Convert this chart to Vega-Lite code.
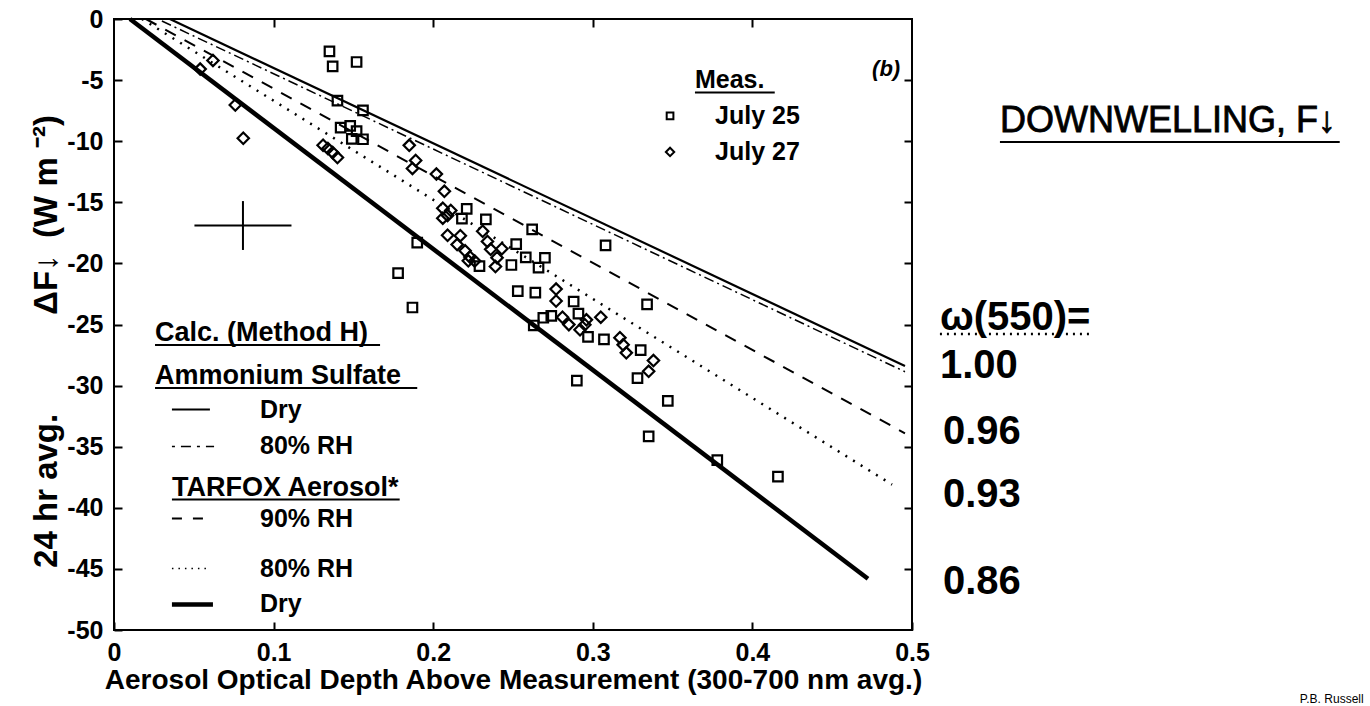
{
  "$schema": "https://vega.github.io/schema/vega-lite/v6.json",
  "width": 798,
  "height": 611,
  "autosize": {"type": "none"},
  "padding": {"left": 114, "top": 19, "right": 458, "bottom": 76},
  "background": "white",
  "datasets": {
    "pts": [
      {"date": "July 25", "x": 0.135, "y": -2.65},
      {"date": "July 25", "x": 0.137, "y": -3.88},
      {"date": "July 25", "x": 0.152, "y": -3.52},
      {"date": "July 25", "x": 0.140, "y": -6.68},
      {"date": "July 25", "x": 0.156, "y": -7.47},
      {"date": "July 25", "x": 0.142, "y": -8.89},
      {"date": "July 25", "x": 0.148, "y": -8.75},
      {"date": "July 25", "x": 0.152, "y": -9.17},
      {"date": "July 25", "x": 0.156, "y": -9.84},
      {"date": "July 25", "x": 0.149, "y": -9.81},
      {"date": "July 25", "x": 0.221, "y": -15.54},
      {"date": "July 25", "x": 0.218, "y": -16.34},
      {"date": "July 25", "x": 0.233, "y": -16.39},
      {"date": "July 25", "x": 0.252, "y": -18.42},
      {"date": "July 25", "x": 0.190, "y": -18.30},
      {"date": "July 25", "x": 0.178, "y": -20.80},
      {"date": "July 25", "x": 0.187, "y": -23.61},
      {"date": "July 25", "x": 0.262, "y": -17.22},
      {"date": "July 25", "x": 0.308, "y": -18.52},
      {"date": "July 25", "x": 0.258, "y": -19.50},
      {"date": "July 25", "x": 0.270, "y": -19.54},
      {"date": "July 25", "x": 0.266, "y": -20.35},
      {"date": "July 25", "x": 0.229, "y": -20.23},
      {"date": "July 25", "x": 0.249, "y": -20.13},
      {"date": "July 25", "x": 0.253, "y": -22.27},
      {"date": "July 25", "x": 0.264, "y": -22.39},
      {"date": "July 25", "x": 0.288, "y": -23.12},
      {"date": "July 25", "x": 0.291, "y": -24.11},
      {"date": "July 25", "x": 0.263, "y": -25.08},
      {"date": "July 25", "x": 0.269, "y": -24.45},
      {"date": "July 25", "x": 0.274, "y": -24.30},
      {"date": "July 25", "x": 0.297, "y": -26.01},
      {"date": "July 25", "x": 0.307, "y": -26.21},
      {"date": "July 25", "x": 0.330, "y": -27.10},
      {"date": "July 25", "x": 0.328, "y": -29.39},
      {"date": "July 25", "x": 0.290, "y": -29.59},
      {"date": "July 25", "x": 0.334, "y": -23.35},
      {"date": "July 25", "x": 0.347, "y": -31.25},
      {"date": "July 25", "x": 0.335, "y": -34.16},
      {"date": "July 25", "x": 0.378, "y": -36.10},
      {"date": "July 25", "x": 0.416, "y": -37.45},
      {"date": "July 27", "x": 0.054, "y": -4.10},
      {"date": "July 27", "x": 0.062, "y": -3.39},
      {"date": "July 27", "x": 0.076, "y": -7.04},
      {"date": "July 27", "x": 0.081, "y": -9.76},
      {"date": "July 27", "x": 0.131, "y": -10.33},
      {"date": "July 27", "x": 0.134, "y": -10.59},
      {"date": "July 27", "x": 0.137, "y": -10.92},
      {"date": "July 27", "x": 0.140, "y": -11.34},
      {"date": "July 27", "x": 0.185, "y": -10.34},
      {"date": "July 27", "x": 0.189, "y": -11.58},
      {"date": "July 27", "x": 0.187, "y": -12.23},
      {"date": "July 27", "x": 0.202, "y": -12.69},
      {"date": "July 27", "x": 0.207, "y": -14.10},
      {"date": "July 27", "x": 0.206, "y": -15.49},
      {"date": "July 27", "x": 0.211, "y": -15.67},
      {"date": "July 27", "x": 0.206, "y": -16.30},
      {"date": "July 27", "x": 0.209, "y": -16.07},
      {"date": "July 27", "x": 0.209, "y": -17.70},
      {"date": "July 27", "x": 0.217, "y": -17.73},
      {"date": "July 27", "x": 0.231, "y": -17.37},
      {"date": "July 27", "x": 0.234, "y": -18.20},
      {"date": "July 27", "x": 0.215, "y": -18.46},
      {"date": "July 27", "x": 0.220, "y": -18.97},
      {"date": "July 27", "x": 0.223, "y": -19.47},
      {"date": "July 27", "x": 0.226, "y": -19.81},
      {"date": "July 27", "x": 0.222, "y": -19.79},
      {"date": "July 27", "x": 0.236, "y": -18.85},
      {"date": "July 27", "x": 0.243, "y": -18.80},
      {"date": "July 27", "x": 0.240, "y": -19.53},
      {"date": "July 27", "x": 0.239, "y": -20.26},
      {"date": "July 27", "x": 0.277, "y": -22.10},
      {"date": "July 27", "x": 0.277, "y": -23.08},
      {"date": "July 27", "x": 0.305, "y": -24.40},
      {"date": "July 27", "x": 0.295, "y": -25.02},
      {"date": "July 27", "x": 0.296, "y": -24.62},
      {"date": "July 27", "x": 0.281, "y": -24.41},
      {"date": "July 27", "x": 0.285, "y": -25.01},
      {"date": "July 27", "x": 0.292, "y": -25.43},
      {"date": "July 27", "x": 0.319, "y": -26.66},
      {"date": "July 27", "x": 0.317, "y": -26.08},
      {"date": "July 27", "x": 0.321, "y": -27.32},
      {"date": "July 27", "x": 0.338, "y": -27.95},
      {"date": "July 27", "x": 0.335, "y": -28.83}
    ],
    "lines": [
      {"series": "AS_dry", "x": 0.035, "y": 0},
      {"series": "AS_dry", "x": 0.4956, "y": -28.4},
      {"series": "AS_80", "x": 0.03, "y": 0},
      {"series": "AS_80", "x": 0.4956, "y": -28.7},
      {"series": "T90", "x": 0.02, "y": 0},
      {"series": "T90", "x": 0.4956, "y": -33.9},
      {"series": "T80", "x": 0.0175, "y": 0},
      {"series": "T80", "x": 0.4875, "y": -38.1},
      {"series": "Tdry", "x": 0.01, "y": 0},
      {"series": "Tdry", "x": 0.4724, "y": -45.8}
    ],
    "legendLines": [
      {"series": "AS_dry", "x": 0.0363, "x2": 0.0601, "y": -31.96},
      {"series": "AS_80", "x": 0.0363, "x2": 0.0627, "y": -34.98},
      {"series": "T90", "x": 0.0363, "x2": 0.0558, "y": -40.88},
      {"series": "T80", "x": 0.0363, "x2": 0.0580, "y": -44.97},
      {"series": "Tdry", "x": 0.0363, "x2": 0.0620, "y": -47.91}
    ],
    "cross": [
      {"x": 0.0504, "x2": 0.1112, "y": -16.9, "y2": -16.9},
      {"x": 0.0808, "x2": 0.0808, "y": -14.9, "y2": -18.9}
    ],
    "measLegend": [
      {"date": "July 25", "x": 0.3484, "y": -7.93},
      {"date": "July 27", "x": 0.3484, "y": -10.88}
    ],
    "underlines": [
      {"kind": "solid", "x": 0.0257, "x2": 0.1667, "y": -26.68},
      {"kind": "solid", "x": 0.0257, "x2": 0.190, "y": -30.2},
      {"kind": "solid", "x": 0.0363, "x2": 0.179, "y": -39.32},
      {"kind": "solid", "x": 0.364, "x2": 0.414, "y": -6.02},
      {"kind": "solid", "x": 0.5551, "x2": 0.768, "y": -10.07},
      {"kind": "dotted", "x": 0.5175, "x2": 0.6134, "y": -25.78}
    ],
    "labels": [
      {"kind": "head", "text": "Calc. (Method H)", "x": 0.0257, "y": -25.7},
      {"kind": "head", "text": "Ammonium Sulfate", "x": 0.0257, "y": -29.21},
      {"kind": "head", "text": "TARFOX Aerosol*", "x": 0.0363, "y": -38.42},
      {"kind": "item", "text": "Dry", "x": 0.0915, "y": -31.96},
      {"kind": "item", "text": "80% RH", "x": 0.0915, "y": -34.98},
      {"kind": "item", "text": "90% RH", "x": 0.0915, "y": -40.88},
      {"kind": "item", "text": "80% RH", "x": 0.0915, "y": -44.97},
      {"kind": "item", "text": "Dry", "x": 0.0915, "y": -47.91},
      {"kind": "item", "text": "Meas.", "x": 0.364, "y": -4.96},
      {"kind": "item", "text": "July 25", "x": 0.3766, "y": -7.9},
      {"kind": "item", "text": "July 27", "x": 0.3766, "y": -10.88},
      {"kind": "panel", "text": "(b)", "x": 0.475, "y": -4.09},
      {"kind": "big", "text": "ω(550)=", "x": 0.5175, "y": -24.47},
      {"kind": "big", "text": "1.00", "x": 0.5175, "y": -28.40},
      {"kind": "big", "text": "0.96", "x": 0.5194, "y": -33.80},
      {"kind": "big", "text": "0.93", "x": 0.5194, "y": -38.95},
      {"kind": "big", "text": "0.86", "x": 0.5194, "y": -46.07},
      {"kind": "title", "text": "DOWNWELLING, F↓", "x": 0.5551, "y": -8.35},
      {"kind": "credit", "text": "P.B. Russell", "x": 0.743, "y": -55.65}
    ]
  },
  "encoding": {
    "x": {"field": "x", "type": "quantitative", "scale": {"domain": [0, 0.5], "nice": false, "zero": false}, "axis": null},
    "y": {"field": "y", "type": "quantitative", "scale": {"domain": [-50, 0], "nice": false, "zero": false}, "axis": null}
  },
  "layer": [
    {
      "data": {"name": "cross"},
      "mark": {"type": "rule", "color": "black", "strokeWidth": 2},
      "encoding": {
        "x": {"field": "x", "type": "quantitative", "scale": {"domain": [0, 0.5], "nice": false, "zero": false},
          "axis": {"orient": "bottom", "values": [0, 0.1, 0.2, 0.3, 0.4, 0.5],
            "labelExpr": "datum.value == 0 ? '0' : format(datum.value, '.1f')",
            "labelFont": "Liberation Sans", "labelFontWeight": "bold", "labelFontSize": 25, "labelColor": "black",
            "labelPadding": 18, "labelFlush": false, "labelOverlap": false,
            "tickSize": -8, "tickColor": "black", "tickWidth": 2, "domain": false, "grid": false,
            "title": "Aerosol Optical Depth Above Measurement (300-700 nm avg.)",
            "titleFont": "Liberation Sans", "titleFontWeight": "bold", "titleFontSize": 28, "titleColor": "black", "titlePadding": 1}},
        "y": {"field": "y", "type": "quantitative", "scale": {"domain": [-50, 0], "nice": false, "zero": false},
          "axis": {"orient": "left", "values": [0, -5, -10, -15, -20, -25, -30, -35, -40, -45, -50],
            "labelExpr": "'' + datum.value",
            "labelFont": "Liberation Sans", "labelFontWeight": "bold", "labelFontSize": 25, "labelColor": "black",
            "labelPadding": 19, "labelFlush": false, "labelOverlap": false,
            "tickSize": -8, "tickColor": "black", "tickWidth": 2, "domain": false, "grid": false,
            "title": "24 hr avg.\u2003\u2003\u2003ΔF↓\u2002(W m ⁻²)",
            "titleY": 322,
            "titleFont": "Liberation Sans", "titleFontWeight": "bold", "titleFontSize": 33, "titleColor": "black", "titlePadding": 3}},
        "x2": {"field": "x2"},
        "y2": {"field": "y2"}
      }
    },
    {
      "data": {"name": "cross"},
      "mark": {"type": "rule", "strokeOpacity": 0},
      "encoding": {
        "x": {"field": "x", "type": "quantitative", "scale": {"domain": [0, 0.5], "nice": false, "zero": false},
          "axis": {"orient": "top", "values": [0.1, 0.2, 0.3, 0.4], "labels": false, "title": null,
            "tickSize": -8, "tickColor": "black", "tickWidth": 2, "domain": false, "grid": false}},
        "y": {"field": "y", "type": "quantitative", "scale": {"domain": [-50, 0], "nice": false, "zero": false},
          "axis": {"orient": "right", "values": [-5, -10, -15, -20, -25, -30, -35, -40, -45], "labels": false, "title": null,
            "tickSize": -8, "tickColor": "black", "tickWidth": 2, "domain": false, "grid": false}},
        "x2": {"field": "x2"},
        "y2": {"field": "y2"}
      }
    },
    {
      "data": {"name": "lines"},
      "transform": [{"filter": "datum.series == 'AS_dry'"}],
      "mark": {"type": "line", "color": "black", "strokeWidth": 2.2},
      "encoding": {}
    },
    {
      "data": {"name": "lines"},
      "transform": [{"filter": "datum.series == 'AS_80'"}],
      "mark": {"type": "line", "color": "black", "strokeWidth": 1.5, "strokeDash": [10, 4, 2, 4], "yOffset": 2},
      "encoding": {}
    },
    {
      "data": {"name": "lines"},
      "transform": [{"filter": "datum.series == 'T90'"}],
      "mark": {"type": "line", "color": "black", "strokeWidth": 2, "strokeDash": [12, 10]},
      "encoding": {}
    },
    {
      "data": {"name": "lines"},
      "transform": [{"filter": "datum.series == 'T80'"}],
      "mark": {"type": "line", "color": "black", "strokeWidth": 2.5, "strokeDash": [2, 7]},
      "encoding": {}
    },
    {
      "data": {"name": "lines"},
      "transform": [{"filter": "datum.series == 'Tdry'"}],
      "mark": {"type": "line", "color": "black", "strokeWidth": 4.5},
      "encoding": {}
    },
    {
      "data": {"name": "legendLines"},
      "transform": [{"filter": "datum.series == 'AS_dry'"}],
      "mark": {"type": "rule", "color": "black", "strokeWidth": 2},
      "encoding": {"x2": {"field": "x2"}}
    },
    {
      "data": {"name": "legendLines"},
      "transform": [{"filter": "datum.series == 'AS_80'"}],
      "mark": {"type": "rule", "color": "black", "strokeWidth": 1.5, "strokeDash": [3, 6, 10, 6]},
      "encoding": {"x2": {"field": "x2"}}
    },
    {
      "data": {"name": "legendLines"},
      "transform": [{"filter": "datum.series == 'T90'"}],
      "mark": {"type": "rule", "color": "black", "strokeWidth": 2, "strokeDash": [10, 11]},
      "encoding": {"x2": {"field": "x2"}}
    },
    {
      "data": {"name": "legendLines"},
      "transform": [{"filter": "datum.series == 'T80'"}],
      "mark": {"type": "rule", "color": "black", "strokeWidth": 1.5, "strokeDash": [1.5, 5]},
      "encoding": {"x2": {"field": "x2"}}
    },
    {
      "data": {"name": "legendLines"},
      "transform": [{"filter": "datum.series == 'Tdry'"}],
      "mark": {"type": "rule", "color": "black", "strokeWidth": 4.5},
      "encoding": {"x2": {"field": "x2"}}
    },
    {
      "data": {"name": "pts"},
      "transform": [{"filter": "datum.date == 'July 25'"}],
      "mark": {"type": "point", "shape": "square", "size": 90, "filled": false, "color": "black", "strokeWidth": 2.2, "opacity": 1},
      "encoding": {}
    },
    {
      "data": {"name": "pts"},
      "transform": [{"filter": "datum.date == 'July 27'"}],
      "mark": {"type": "point", "shape": "diamond", "size": 130, "filled": false, "color": "black", "strokeWidth": 2.2, "opacity": 1},
      "encoding": {}
    },
    {
      "data": {"name": "measLegend"},
      "transform": [{"filter": "datum.date == 'July 25'"}],
      "mark": {"type": "point", "shape": "square", "size": 45, "filled": false, "color": "black", "strokeWidth": 2, "opacity": 1},
      "encoding": {}
    },
    {
      "data": {"name": "measLegend"},
      "transform": [{"filter": "datum.date == 'July 27'"}],
      "mark": {"type": "point", "shape": "diamond", "size": 70, "filled": false, "color": "black", "strokeWidth": 2, "opacity": 1},
      "encoding": {}
    },
    {
      "data": {"name": "underlines"},
      "transform": [{"filter": "datum.kind == 'solid'"}],
      "mark": {"type": "rule", "color": "black", "strokeWidth": 2},
      "encoding": {"x2": {"field": "x2"}}
    },
    {
      "data": {"name": "underlines"},
      "transform": [{"filter": "datum.kind == 'dotted'"}],
      "mark": {"type": "rule", "color": "black", "strokeWidth": 2.5, "strokeDash": [2, 5]},
      "encoding": {"x2": {"field": "x2"}}
    },
    {
      "data": {"name": "labels"},
      "transform": [{"filter": "datum.kind == 'head'"}],
      "mark": {"type": "text", "align": "left", "baseline": "middle", "font": "Liberation Sans", "fontWeight": "bold", "fontSize": 27, "color": "black"},
      "encoding": {"text": {"field": "text"}}
    },
    {
      "data": {"name": "labels"},
      "transform": [{"filter": "datum.kind == 'item'"}],
      "mark": {"type": "text", "align": "left", "baseline": "middle", "font": "Liberation Sans", "fontWeight": "bold", "fontSize": 25, "color": "black"},
      "encoding": {"text": {"field": "text"}}
    },
    {
      "data": {"name": "labels"},
      "transform": [{"filter": "datum.kind == 'panel'"}],
      "mark": {"type": "text", "align": "left", "baseline": "middle", "font": "Liberation Sans", "fontWeight": "bold", "fontStyle": "italic", "fontSize": 22, "color": "black"},
      "encoding": {"text": {"field": "text"}}
    },
    {
      "data": {"name": "labels"},
      "transform": [{"filter": "datum.kind == 'big'"}],
      "mark": {"type": "text", "align": "left", "baseline": "middle", "font": "Liberation Sans", "fontWeight": "bold", "fontSize": 40, "color": "black"},
      "encoding": {"text": {"field": "text"}}
    },
    {
      "data": {"name": "labels"},
      "transform": [{"filter": "datum.kind == 'title'"}],
      "mark": {"type": "text", "align": "left", "baseline": "middle", "font": "Liberation Sans", "fontWeight": "normal", "fontSize": 36, "color": "black", "stroke": "black", "strokeWidth": 0.8},
      "encoding": {"text": {"field": "text"}}
    },
    {
      "data": {"name": "labels"},
      "transform": [{"filter": "datum.kind == 'credit'"}],
      "mark": {"type": "text", "align": "left", "baseline": "middle", "font": "Liberation Sans", "fontSize": 12, "color": "black"},
      "encoding": {"text": {"field": "text"}}
    }
  ],
  "resolve": {"axis": {"x": "independent", "y": "independent"}},
  "config": {
    "view": {"stroke": "black", "strokeWidth": 2},
    "font": "Liberation Sans"
  }
}
